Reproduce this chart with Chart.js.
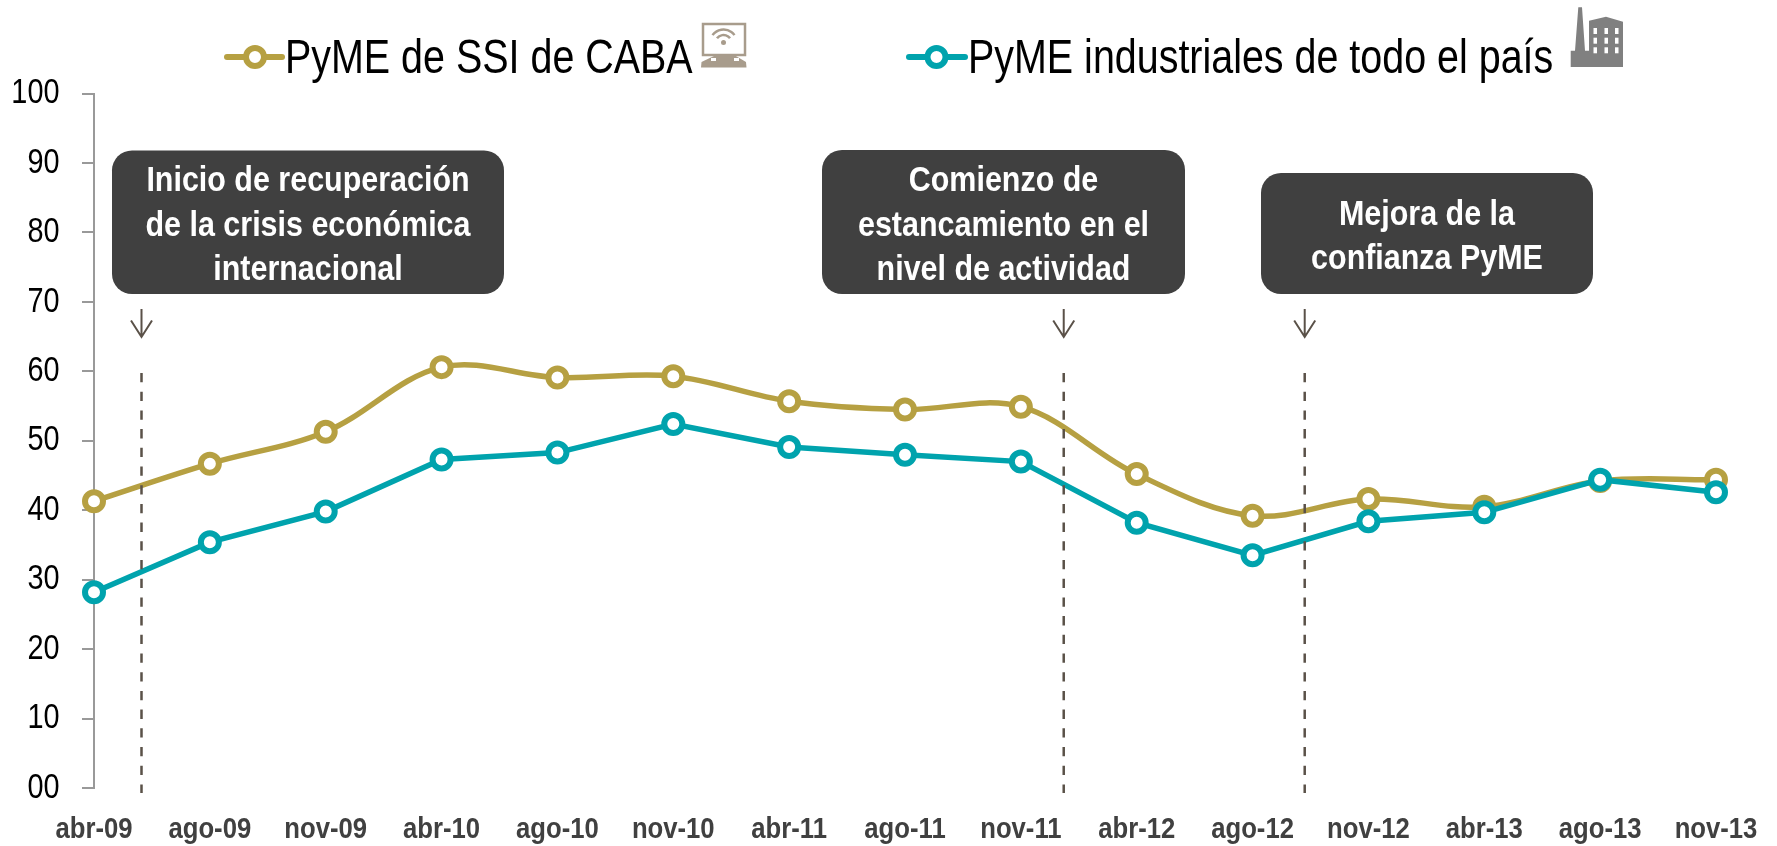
<!DOCTYPE html>
<html><head><meta charset="utf-8">
<style>html,body{margin:0;padding:0;background:#fff}#w{width:1777px;height:846px;position:relative}</style>
<script src="https://cdn.jsdelivr.net/npm/chart.js@4"></script></head>
<body><div id="w"><canvas id="c" width="1777" height="846"></canvas></div>
<script>
const categories=['abr-09','ago-09','nov-09','abr-10','ago-10','nov-10','abr-11','ago-11','nov-11','abr-12','ago-12','nov-12','abr-13','ago-13','nov-13'];
const caba=[41.3,46.7,51.3,60.6,59.1,59.3,55.7,54.5,54.9,45.2,39.2,41.6,40.5,44.2,44.4];
const industria=[28.2,35.4,39.8,47.3,48.3,52.4,49.1,48.0,47.0,38.2,33.5,38.4,39.7,44.4,42.6];
const seriesNames=['PyME de SSI de CABA','PyME industriales de todo el país'];
const yTickLabels=['00','10','20','30','40','50','60','70','80','90','100'];
const eventPositions=[0.41,8.37,10.45];
const eventTexts=[['Inicio de recuperación','de la crisis económica','internacional'],['Comienzo de','estancamiento en el','nivel de actividad'],['Mejora de la','confianza PyME']];
const GOLD='#b6a042',TEAL='#00a3ad',SANS='"Liberation Sans"';

const canvas=document.getElementById('c');
const ctx0=canvas.getContext('2d');
// The reference uses a condensed Arial look: squeeze all text horizontally about its anchor.
const rawFill=ctx0.fillText.bind(ctx0);
ctx0.fillText=function(s,x,y,m){
  const k=/bold/.test(ctx0.font)?0.87:0.825;
  ctx0.save();ctx0.translate(x,y);ctx0.scale(k,1);rawFill(s,0,0);ctx0.restore();
};
const boxes=[[112,150.5,392,143.5],[822,150,363,144],[1261,173,332,121]];
const deco={id:'deco',afterDraw(ch){
 const c=ch.ctx,xs=ch.scales.x;c.save();
 eventPositions.forEach((p,i)=>{
  const x=xs.getPixelForValue(p);
  c.strokeStyle='#5a5148';c.lineWidth=2.5;c.setLineDash([9.3,9.4]);
  c.beginPath();c.moveTo(x,373);c.lineTo(x,793);c.stroke();c.setLineDash([]);
  c.lineWidth=2;c.beginPath();c.moveTo(x,309);c.lineTo(x,337);c.moveTo(x-10.5,320.5);c.lineTo(x,337);c.lineTo(x+10.5,320.5);c.stroke();
  const b=boxes[i];c.fillStyle='#404040';c.beginPath();c.roundRect(b[0],b[1],b[2],b[3],20);c.fill();
  c.fillStyle='#fff';c.font='bold 35px '+SANS;c.textAlign='center';c.textBaseline='alphabetic';
  const t=eventTexts[i],lh=44.5,cy=b[1]+b[3]/2;
  t.forEach((s,j)=>c.fillText(s,b[0]+b[2]/2,cy+(j-(t.length-1)/2)*lh+13.5));
 });
 [[227,282,255,285,GOLD,0],[909,965,936.5,968,TEAL,1]].forEach(l=>{
  const y=57;c.strokeStyle=l[4];c.lineWidth=6;c.lineCap='round';
  c.beginPath();c.moveTo(l[0],y);c.lineTo(l[1],y);c.stroke();c.lineCap='butt';
  c.beginPath();c.arc(l[2],y,9,0,7);c.fillStyle='#fff';c.fill();c.lineWidth=6;c.stroke();
  c.fillStyle='#000';c.font='47.8px '+SANS;c.textAlign='left';c.textBaseline='alphabetic';
  c.fillText(seriesNames[l[5]],l[3],73);
 });
 // monitor icon
 c.strokeStyle='#a89c8c';c.fillStyle='#a89c8c';c.lineWidth=2.5;
 c.strokeRect(703,24,42,31);
 c.beginPath();c.moveTo(715,55.5);c.lineTo(735,55.5);c.lineTo(746,62);c.lineTo(746.5,67.5);c.lineTo(701,67.5);c.lineTo(701.5,62);c.closePath();c.fill();
 c.fillStyle='#fff';c.fillRect(711,58,28,3);c.fillStyle='#a89c8c';c.fillRect(716,57,18,4);
 c.lineWidth=2.5;[13.5,8].forEach(r=>{c.beginPath();c.arc(723.5,43,r,-Math.PI/2-0.95,-Math.PI/2+0.95);c.stroke();});
 c.beginPath();c.arc(723.5,42.5,2.5,0,7);c.fill();
 // factory icon
 c.fillStyle='#808080';
 c.beginPath();[[1570.7,67],[1570.7,50.7],[1575,50.7],[1578.3,7.3],[1582,7.3],[1585,50.7],[1589,50.7],[1589,20.7],[1606,16.7],[1623,21.7],[1623,67]].forEach((q,i)=>i?c.lineTo(q[0],q[1]):c.moveTo(q[0],q[1]));c.closePath();c.fill();
 c.fillStyle='#fff';
 [1593.5,1604.5,1615].forEach(wx=>[28,37.7,47.3].forEach(wy=>c.fillRect(wx,wy,3.5,6)));
 c.restore();
}};
new Chart(canvas,{type:'line',
 data:{labels:categories,datasets:[
  {label:seriesNames[0],data:caba,borderColor:GOLD,pointBorderColor:GOLD,tension:0.35,order:2},
  {label:seriesNames[1],data:industria,borderColor:TEAL,pointBorderColor:TEAL,tension:0,order:1}
 ]},
 options:{responsive:false,animation:false,
  layout:{padding:{top:93.5,right:61,left:0,bottom:0}},
  datasets:{line:{borderWidth:5.5,pointRadius:9,pointBorderWidth:6,pointBackgroundColor:'#fff',clip:false}},
  plugins:{legend:{display:false},tooltip:{enabled:false}},
  scales:{
   x:{type:'category',offset:false,grid:{display:false},border:{display:false},
    afterFit(s){s.height=58;s.paddingLeft=0;s.paddingRight=0;},
    ticks:{color:'#404040',font:{family:SANS,size:29.5,weight:'bold'},padding:16,maxRotation:0,autoSkip:false}},
   y:{min:0,max:100,afterFit(s){s.width=94;s.paddingTop=0;s.paddingBottom=0;},
    grid:{drawOnChartArea:false,color:'#999',tickLength:12,lineWidth:2},
    border:{color:'#999',width:2},
    ticks:{stepSize:10,color:'#000',padding:22.5,font:{family:SANS,size:35},callback:(v)=>yTickLabels[v/10]}}
  }},
 plugins:[deco]});
</script></body></html>
